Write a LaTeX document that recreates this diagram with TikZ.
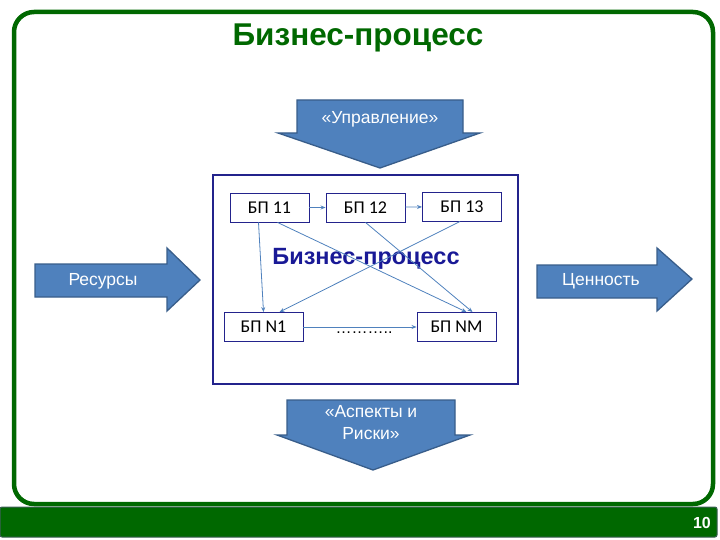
\documentclass[tikz,border=0pt]{standalone}
\usepackage{fontspec}
\setmainfont{Liberation Sans}
\newfontfamily\calfont{Carlito}
\usepackage{tikz}
\usetikzlibrary{arrows.meta}
\definecolor{slidegreen}{RGB}{0,104,0}
\definecolor{barborder}{RGB}{60,95,85}
\definecolor{boxnavy}{RGB}{35,35,140}
\definecolor{txtnavy}{RGB}{25,25,150}
\definecolor{arrowfill}{RGB}{79,129,189}
\definecolor{arrowline}{RGB}{56,93,138}
\tikzset{
    bpbox/.style={draw=boxnavy,line width=0.9pt,fill=white,minimum width=79pt,minimum height=29pt,inner sep=0pt,font=\calfont\fontsize{18}{19}\selectfont},
    blockarrow/.style={fill=arrowfill,draw=arrowline,line width=1.3pt,line join=miter},
    arrowtext/.style={text=white,font=\fontsize{17.5}{22}\selectfont,align=center,inner sep=0pt},
    link/.style={draw=arrowfill,line width=0.8pt,-{Stealth[length=5pt,width=4pt]}}
}
\begin{document}
\begin{tikzpicture}[x=1pt,y=-1pt]
            \useasboundingbox (0,0) rectangle (720,540);
                % frame
                \draw[slidegreen,line width=4.5pt,rounded corners=20pt] (14,12) rectangle (713,504);
                \draw[fill=slidegreen,draw=barborder,line width=1pt,rounded corners=2pt] (0,507) rectangle (717,537);
                \node[anchor=east,text=white,font=\bfseries\fontsize{16}{18}\selectfont,inner sep=0pt] (pagenum) at (711,523) {10};
                \node[text=slidegreen,font=\bfseries\fontsize{31.5}{34}\selectfont,inner sep=0pt] (title) at (358,38) {Бизнес-процесс};
                % block arrows
                \draw[blockarrow] (35,264) -- (167,264) -- (167,248) -- (200,280) -- (167,311) -- (167,297) -- (35,297) -- cycle;
                \node[arrowtext] (res) at (103,281) {Ресурсы};
                \draw[blockarrow] (537,265) -- (657,265) -- (657,248) -- (692,279) -- (657,311) -- (657,298) -- (537,298) -- cycle;
                \node[arrowtext] (val) at (601,281) {Ценность};
                \draw[blockarrow] (297,100) -- (463,100) -- (463,133) -- (480,133) -- (380,168) -- (278,133) -- (297,133) -- cycle;
                \node[arrowtext] (ctrl) at (380,119) {«Управление»};
                \draw[blockarrow] (287,400) -- (455,400) -- (455,435) -- (470,435) -- (373,470) -- (277,435) -- (287,435) -- cycle;
                \node[arrowtext] (risk) at (371,423) {«Аспекты и\\Риски»};
                % process
                \draw[boxnavy,line width=2.6pt] (213,175) rectangle (518,384);
                \node[text=txtnavy,font=\bfseries\fontsize{23.5}{25}\selectfont,inner sep=0pt] (inner) at (366,259) {Бизнес-процесс};
                \node[bpbox] (b11) at (269.5,207.5) {БП 11};
                \node[bpbox] (b12) at (365.5,207.5) {БП 12};
                \node[bpbox] (b13) at (462,206.5) {БП 13};
                \node[bpbox] (bN1) at (263.5,327) {БП N1};
                \node[bpbox] (bNM) at (456.5,327) {БП NM};
                \node[font=\fontsize{16}{18}\selectfont,inner sep=0pt] (dots) at (364,333) {………..};
                % links
                \draw[link] (b11) -- (b12);
                \draw[link] (b12) -- (b13);
                \draw[link] ([xshift=-11pt]b11.south) -- (bN1.north);
                \draw[link] ([xshift=8pt]b11.south) -- ([xshift=10pt]bNM.north);
                \draw[link] (b12.south) -- ([xshift=16pt]bNM.north);
                \draw[link] ([xshift=-2pt]b13.south) -- ([xshift=16pt]bN1.north);
                \draw[link] (bN1) -- (bNM);
\end{tikzpicture}
\end{document}
